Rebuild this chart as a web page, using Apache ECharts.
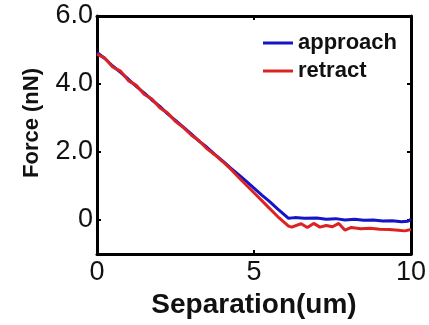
<!DOCTYPE html>
<html>
<head>
<meta charset="utf-8">
<script src="https://cdn.jsdelivr.net/npm/echarts@6/dist/echarts.min.js"></script>
<style>html,body{margin:0;padding:0;background:#fff;}#c{width:429px;height:325px;}</style>
</head>
<body>
<div id="c"></div>
<script>
const approachX = [0,0.25,0.5,0.75,1,1.25,1.5,1.75,2,2.25,2.5,2.75,3,3.25,3.5,3.75,4,4.25,4.5,4.75,5,5.25,5.5,5.75,6,6.1,6.3,6.6,7.0,7.3,7.6,7.9,8.2,8.5,8.8,9.1,9.4,9.7,9.9,10];
const approachY = [4.93,4.75,4.53,4.34,4.14,3.93,3.74,3.53,3.34,3.12,2.93,2.73,2.53,2.32,2.14,1.93,1.74,1.53,1.34,1.14,0.94,0.73,0.54,0.33,0.13,0.05,0.07,0.05,0.06,0.02,0.04,0.0,0.02,-0.01,0.0,-0.03,-0.02,-0.05,-0.04,0.02];
const retractX = [0,0.25,0.5,0.75,1,1.25,1.5,1.75,2,2.25,2.5,2.75,3,3.25,3.5,3.75,4,4.2,4.6,5.0,5.4,5.8,6.1,6.2,6.5,6.7,6.9,7.1,7.3,7.5,7.7,7.9,8.1,8.4,8.7,9.0,9.3,9.6,9.8,10];
const retractY = [4.88,4.76,4.5,4.38,4.1,3.96,3.7,3.56,3.3,3.15,2.9,2.72,2.5,2.33,2.1,1.92,1.72,1.55,1.17,0.8,0.43,0.06,-0.18,-0.21,-0.11,-0.22,-0.1,-0.21,-0.16,-0.2,-0.1,-0.3,-0.22,-0.26,-0.24,-0.27,-0.28,-0.3,-0.32,-0.28];
const yTicks = [0,2,4,6];
const xTicks = [0,5,10];
const seriesNames = ['approach','retract'];

const pair = (xs, ys) => xs.map((x,i)=>[x, ys[i]]);
const chart = echarts.init(document.getElementById('c'));
const axisLine = {show:true, onZero:false, lineStyle:{color:'#000', width:3}};
const tick = {show:true, inside:true, length:4, lineStyle:{color:'#000', width:2}};
chart.setOption({
  animation:false,
  backgroundColor:'#fff',
  grid:{left:97, right:16, top:16, bottom:71},
  legend:{
    orient:'vertical', left:258, top:27, itemWidth:30, itemHeight:3, itemGap:6,
    icon:'rect',
    textStyle:{fontFamily:'Liberation Sans', fontSize:22, fontWeight:'bold', color:'#111', lineHeight:22},
    data:seriesNames
  },
  xAxis:[{
    type:'value', min:0, max:10, interval:5,
    name:'Separation(um)', nameLocation:'middle', nameGap:33,
    nameTextStyle:{fontFamily:'Liberation Sans', fontSize:28, fontWeight:'bold', color:'#111'},
    axisLine, splitLine:{show:false},
    axisTick:Object.assign({}, tick, {customValues:[5]}),
    axisLabel:{fontFamily:'Liberation Sans', fontSize:27, color:'#111', margin:5, customValues:xTicks}
  },{
    type:'value', min:0, max:10, interval:5, position:'top',
    axisLine, splitLine:{show:false},
    axisTick:Object.assign({}, tick, {customValues:[5]}),
    axisLabel:{show:false}
  }],
  yAxis:[{
    type:'value', min:-1, max:6,
    name:'Force (nN)', nameLocation:'middle', nameGap:54,
    nameTextStyle:{fontFamily:'Liberation Sans', fontSize:22, fontWeight:'bold', color:'#111', padding:[0,0,0,24]},
    axisLine, splitLine:{show:false},
    axisTick:Object.assign({}, tick, {customValues:yTicks}),
    axisLabel:{fontFamily:'Liberation Sans', fontSize:27, color:'#111', margin:4, customValues:yTicks,
      formatter:v => v===0 ? '0' : v.toFixed(1)}
  },{
    type:'value', min:-1, max:6, position:'right',
    axisLine, splitLine:{show:false},
    axisTick:Object.assign({}, tick, {customValues:yTicks}),
    axisLabel:{show:false}
  }],
  series:[
    {name:seriesNames[0], type:'line', showSymbol:false, data:pair(approachX, approachY),
     lineStyle:{color:'#1414c8', width:3}, itemStyle:{color:'#1414c8'}},
    {name:seriesNames[1], type:'line', showSymbol:false, data:pair(retractX, retractY),
     lineStyle:{color:'#dc2222', width:3}, itemStyle:{color:'#dc2222'}}
  ]
});
</script>
</body>
</html>
